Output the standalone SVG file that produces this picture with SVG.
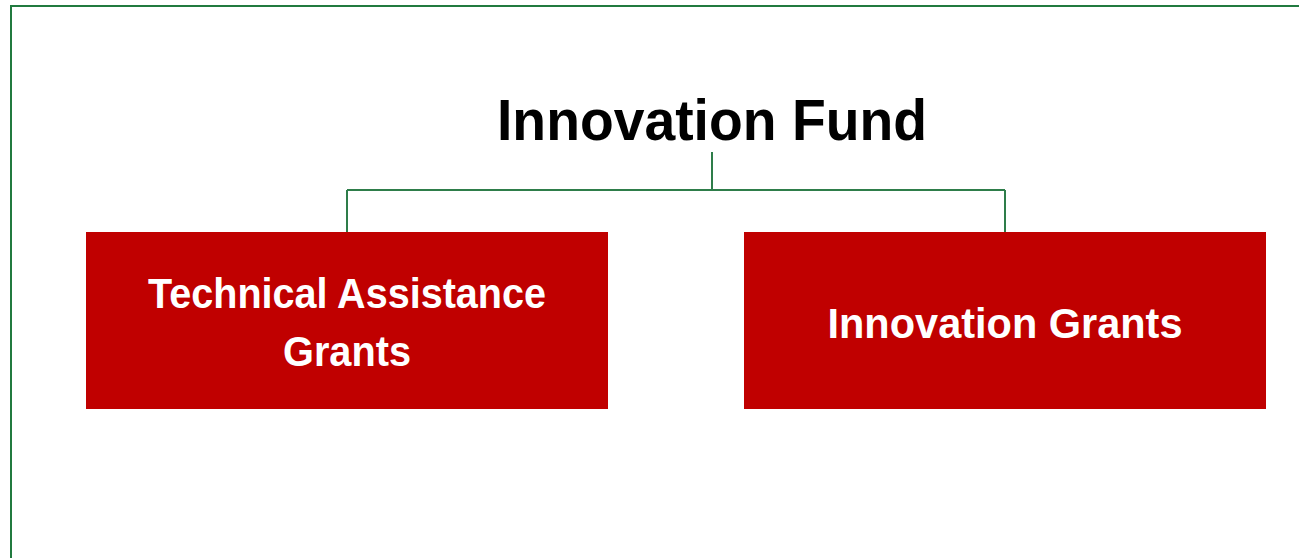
<svg xmlns="http://www.w3.org/2000/svg" width="1299" height="558" viewBox="0 0 1299 558">
<style>
.t{font-family:"Liberation Sans",Arial,sans-serif;font-weight:bold;text-anchor:middle}
.box{fill:#C00000}
.bt{fill:#FFFFFF;font-size:43px}
.conn{fill:none;stroke:#2E7D4A;stroke-width:2}
</style>
<rect x="0" y="0" width="1299" height="558" fill="#FFFFFF"/>
<path d="M11 558 V6 H1299" fill="none" stroke="#217A3F" stroke-width="2"/>
<g id="title"><text class="t" x="712" y="140" font-size="58" fill="#000000" textLength="430" lengthAdjust="spacingAndGlyphs">Innovation Fund</text></g>
<g id="connectors">
<path class="conn" d="M712 152 V190 M347 190 H1005 M347 190 V232 M1005 190 V232"/>
</g>
<g id="node-tag">
<rect class="box" x="86" y="232" width="522" height="177"/>
<text class="t bt" x="347" y="308" textLength="398" lengthAdjust="spacingAndGlyphs">Technical Assistance</text>
<text class="t bt" x="347" y="366" textLength="128" lengthAdjust="spacingAndGlyphs">Grants</text>
</g>
<g id="node-ig">
<rect class="box" x="744" y="232" width="522" height="177"/>
<text class="t bt" x="1005" y="338" textLength="355" lengthAdjust="spacingAndGlyphs">Innovation Grants</text>
</g>
</svg>
